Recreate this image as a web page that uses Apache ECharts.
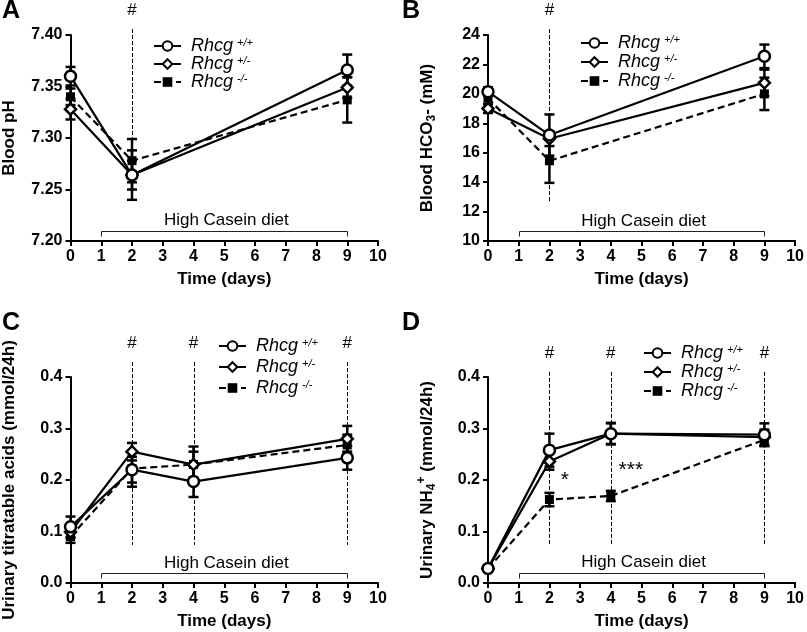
<!DOCTYPE html>
<html>
<head>
<meta charset="utf-8">
<script src="https://cdn.jsdelivr.net/npm/echarts@6/dist/echarts.min.js"></script>
<style>html,body{margin:0;padding:0;background:#fff}#c{width:807px;height:632px}</style>
</head>
<body>
<div id="c"></div>
<script>
// ---------- data ----------
const daysAB = [0, 2, 9];
const daysCD = [0, 2, 4, 9];
const seriesNames = ['Rhcg +/+', 'Rhcg +/-', 'Rhcg -/-'];

// Panel A: blood pH
const phWt = [7.360, 7.264, 7.366];
const phWtErr = [0.009, 0.024, 0.015];
const phHet = [7.328, 7.264, 7.349];
const phHetErr = [0.010, 0.014, 0.010];
const phKo = [7.340, 7.278, 7.337];
const phKoErr = [0.008, 0.021, 0.022];

// Panel B: blood HCO3-
const hcoWt = [20.15, 17.2, 22.55];
const hcoWtErr = [0.3, 1.4, 0.8];
const hcoHet = [19.0, 16.95, 20.75];
const hcoHetErr = [0.3, 0.5, 0.9];
const hcoKo = [19.7, 15.45, 20.0];
const hcoKoErr = [0.4, 1.5, 1.1];

// Panel C: urinary titratable acids
const taWt = [0.109, 0.220, 0.197, 0.243];
const taWtErr = [0.020, 0.025, 0.030, 0.023];
const taHet = [0.099, 0.255, 0.230, 0.280];
const taHetErr = [0.012, 0.017, 0.025, 0.025];
const taKo = [0.090, 0.222, 0.230, 0.268];
const taKoErr = [0.012, 0.035, 0.035, 0.020];

// Panel D: urinary NH4+
const nhWt = [0.028, 0.258, 0.290, 0.288];
const nhWtErr = [0.004, 0.032, 0.021, 0.022];
const nhHet = [0.028, 0.236, 0.290, 0.283];
const nhHetErr = [0.004, 0.016, 0.020, 0.015];
const nhKo = [0.028, 0.162, 0.169, 0.278];
const nhKoErr = [0.004, 0.013, 0.010, 0.012];

// significance marks (#) : day, top value, bottom value
const hashA = [[2, 7.4058, 7.24]];
const hashB = [[2, 24.4, 12.65]];
const hashC = [[2, 0.429, 0.074], [4, 0.429, 0.074], [9, 0.429, 0.074]];
const hashD = [[2, 0.41, 0.074], [4, 0.41, 0.074], [9, 0.41, 0.074]];

// diet bracket: start day, end day, level
const dietLabel = 'High Casein diet';
const bracketA = [[1, 9, 7.21]];
const bracketB = [[1, 9, 10.68]];
const bracketC = [[1, 9, 0.019]];
const bracketD = [[1, 9, 0.020]];

// stars in D
const starPos = [[2.5, 0.200], [4.65, 0.219]];
const starText = ['*', '***'];

// ---------- chart ----------
const FONT = '"Liberation Sans", Arial, sans-serif';
const chart = echarts.init(document.getElementById('c'), null, {renderer: 'canvas'});

const grids = [
  {left: 68, top: 35, width: 310, height: 206},
  {left: 488, top: 35, width: 309, height: 206},
  {left: 68, top: 377, width: 310, height: 206},
  {left: 488, top: 377, width: 309, height: 206}
];

const axisCommon = {
  axisLine: {lineStyle: {color: '#000', width: 2}},
  axisTick: {show: true, inside: false, length: 5, lineStyle: {color: '#000', width: 2}},
  splitLine: {show: false},
  axisLabel: {color: '#000', fontFamily: FONT, fontWeight: 'bold', fontSize: 16}
};

const nameStyle = {
  color: '#000', fontFamily: FONT, fontWeight: 'bold', fontSize: 17,
  rich: {
    n: {fontFamily: FONT, fontWeight: 'bold', fontSize: 17, color: '#000', lineHeight: 22},
    sub: {fontFamily: FONT, fontWeight: 'bold', fontSize: 12, color: '#000', lineHeight: 12, verticalAlign: 'bottom'},
    sup: {fontFamily: FONT, fontWeight: 'bold', fontSize: 12, color: '#000', lineHeight: 12, verticalAlign: 'top'}
  }
};

const xAxes = grids.map((g, i) => Object.assign({}, axisCommon, {
  type: 'value', gridIndex: i, min: 0, max: 10, interval: 1,
  name: 'Time (days)', nameLocation: 'middle', nameGap: 30,
  nameTextStyle: {color: '#000', fontFamily: FONT, fontWeight: 'bold', fontSize: 17},
  axisLabel: Object.assign({}, axisCommon.axisLabel, {margin: 8})
}));

const yDefs = [
  {min: 7.2, max: 7.4, interval: 0.05, fmt: v => v.toFixed(2), name: '{n|Blood pH}'},
  {min: 10, max: 24, interval: 2, fmt: v => String(Math.round(v)), name: '{n|Blood HCO}{sub|3}{n|- (mM)}'},
  {min: 0, max: 0.4, interval: 0.1, fmt: v => v.toFixed(1), name: '{n|Urinary titratable acids (mmol/24h)}'},
  {min: 0, max: 0.4, interval: 0.1, fmt: v => v.toFixed(1), name: '{n|Urinary NH}{sub|4}{sup|+}{n| (mmol/24h)}'}
];
const yAxes = yDefs.map((d, i) => Object.assign({}, axisCommon, {
  type: 'value', gridIndex: i, min: d.min, max: d.max, interval: d.interval,
  name: d.name, nameLocation: 'middle', nameGap: i % 2 === 0 ? 50 : 50,
  nameTextStyle: nameStyle,
  axisLabel: Object.assign({}, axisCommon.axisLabel, {margin: 8, formatter: d.fmt})
}));

function errRender(params, api) {
  const x = api.value(0), y = api.value(1), e = api.value(2);
  const t = api.coord([x, y + e]), b = api.coord([x, y - e]);
  const w = 5;
  const st = {stroke: '#000', lineWidth: 2.5};
  return {type: 'group', children: [
    {type: 'line', shape: {x1: t[0], y1: t[1], x2: b[0], y2: b[1]}, style: st},
    {type: 'line', shape: {x1: t[0] - w, y1: t[1], x2: t[0] + w, y2: t[1]}, style: st},
    {type: 'line', shape: {x1: b[0] - w, y1: b[1], x2: b[0] + w, y2: b[1]}, style: st}
  ]};
}

function hashRender(params, api) {
  const x = api.value(0);
  const t = api.coord([x, api.value(1)]), b = api.coord([x, api.value(2)]);
  const px = Math.round(t[0]) + 0.5;
  return {type: 'group', children: [
    {type: 'line', shape: {x1: px, y1: t[1], x2: px, y2: b[1]},
     style: {stroke: '#000', lineWidth: 1, lineDash: [4, 2]}},
    {type: 'text', x: t[0], y: t[1] - 19,
     style: {text: '#', fill: '#000', font: '17px ' + FONT, textAlign: 'center', textVerticalAlign: 'middle'}}
  ]};
}

function bracketRender(params, api) {
  const a = api.coord([api.value(0), api.value(2)]);
  const b = api.coord([api.value(1), api.value(2)]);
  const m = api.coord([(api.value(0) + api.value(1)) / 2, api.value(2)]);
  const yy = Math.round(a[1]) + 0.5;
  const xa = Math.round(a[0]) + 0.5, xb = Math.round(b[0]) + 0.5;
  return {type: 'group', children: [
    {type: 'polyline', shape: {points: [[xa, yy + 5], [xa, yy], [xb, yy], [xb, yy + 5]]},
     style: {stroke: '#222', lineWidth: 1, fill: null}},
    {type: 'text', x: m[0] + 2, y: m[1] - 10,
     style: {text: dietLabel, fill: '#000', font: '17px ' + FONT, textAlign: 'center', textVerticalAlign: 'middle'}}
  ]};
}

function starRender(params, api) {
  const p = api.coord([api.value(0), api.value(1)]);
  return {type: 'text', x: p[0], y: p[1],
    style: {text: starText[params.dataIndex], fill: '#000', font: '21px ' + FONT, textAlign: 'center', textVerticalAlign: 'middle'}};
}

const symbols = [
  {symbol: 'circle', symbolSize: 11, itemStyle: {color: '#fff', borderColor: '#000', borderWidth: 2.5}},
  {symbol: 'diamond', symbolSize: 11, itemStyle: {color: '#fff', borderColor: '#000', borderWidth: 2.5}},
  {symbol: 'rect', symbolSize: 9, itemStyle: {color: '#000', borderColor: '#000', borderWidth: 0}}
];
const lineTypes = ['solid', 'solid', [7, 4]];

const panels = [
  {days: daysAB, vals: [phWt, phHet, phKo], errs: [phWtErr, phHetErr, phKoErr], hash: hashA, br: bracketA},
  {days: daysAB, vals: [hcoWt, hcoHet, hcoKo], errs: [hcoWtErr, hcoHetErr, hcoKoErr], hash: hashB, br: bracketB},
  {days: daysCD, vals: [taWt, taHet, taKo], errs: [taWtErr, taHetErr, taKoErr], hash: hashC, br: bracketC},
  {days: daysCD, vals: [nhWt, nhHet, nhKo], errs: [nhWtErr, nhHetErr, nhKoErr], hash: hashD, br: bracketD}
];

const series = [];
panels.forEach((p, gi) => {
  series.push({type: 'custom', name: 'hash' + gi, xAxisIndex: gi, yAxisIndex: gi, renderItem: hashRender,
    data: p.hash, z: 1, silent: true, clip: false, encode: {x: 0, y: 1}});
  series.push({type: 'custom', name: 'bracket' + gi, xAxisIndex: gi, yAxisIndex: gi, renderItem: bracketRender,
    data: p.br, z: 1, silent: true, clip: false, encode: {x: 0, y: 2}});
  for (let k = 0; k < 3; k++) {
    series.push({type: 'custom', name: 'err' + gi + k, xAxisIndex: gi, yAxisIndex: gi, renderItem: errRender,
      data: p.days.map((d, i) => [d, p.vals[k][i], p.errs[k][i]]), z: 2, silent: true, clip: false, encode: {x: 0, y: 1}});
  }
  for (let k = 2; k >= 0; k--) {
    series.push(Object.assign({
      type: 'line', name: seriesNames[k], xAxisIndex: gi, yAxisIndex: gi,
      data: p.days.map((d, i) => [d, p.vals[k][i]]),
      lineStyle: {color: '#000', width: 2.2, type: lineTypes[k]},
      showAllSymbol: true, animation: false, z: 3 + (2 - k), silent: true
    }, symbols[k]));
  }
});
series.push({type: 'custom', name: 'stars', xAxisIndex: 3, yAxisIndex: 3, renderItem: starRender,
  data: starPos, z: 6, silent: true, clip: false, encode: {x: 0, y: 1}});

const legendRich = {
  i: {fontFamily: FONT, fontStyle: 'italic', fontSize: 18, color: '#000', lineHeight: 17, padding: [0, 0, 0, 5]},
  s: {fontFamily: FONT, fontStyle: 'italic', fontSize: 11, color: '#000', lineHeight: 11, verticalAlign: 'top', padding: [0, 0, 0, 4]}
};
function legendFmt(name) {
  return '{i|Rhcg}{s|' + name.split(' ')[1] + '}';
}
const legendPos = [
  {left: 153, top: 37, gap: 0},
  {left: 580, top: 34, gap: 1},
  {left: 218, top: 337, gap: 3},
  {left: 643, top: 344, gap: 1}
];
const legends = legendPos.map(lp => ({
  orient: 'vertical', left: lp.left, top: lp.top, itemWidth: 27, itemHeight: 12, itemGap: lp.gap,
  data: seriesNames, formatter: legendFmt, selectedMode: false, padding: 0,
  textStyle: {rich: legendRich, fontFamily: FONT, fontSize: 18, color: '#000'}
}));

const letters = [['A', 2, -1], ['B', 402, -1], ['C', 2, 311], ['D', 402, 311]];

chart.setOption({
  animation: false,
  backgroundColor: '#fff',
  grid: grids,
  xAxis: xAxes,
  yAxis: yAxes,
  legend: legends,
  graphic: letters.map(l => ({type: 'text', left: l[1], top: l[2],
    style: {text: l[0], fill: '#000', font: 'bold 25px ' + FONT}})),
  series: series
});
</script>
</body>
</html>
